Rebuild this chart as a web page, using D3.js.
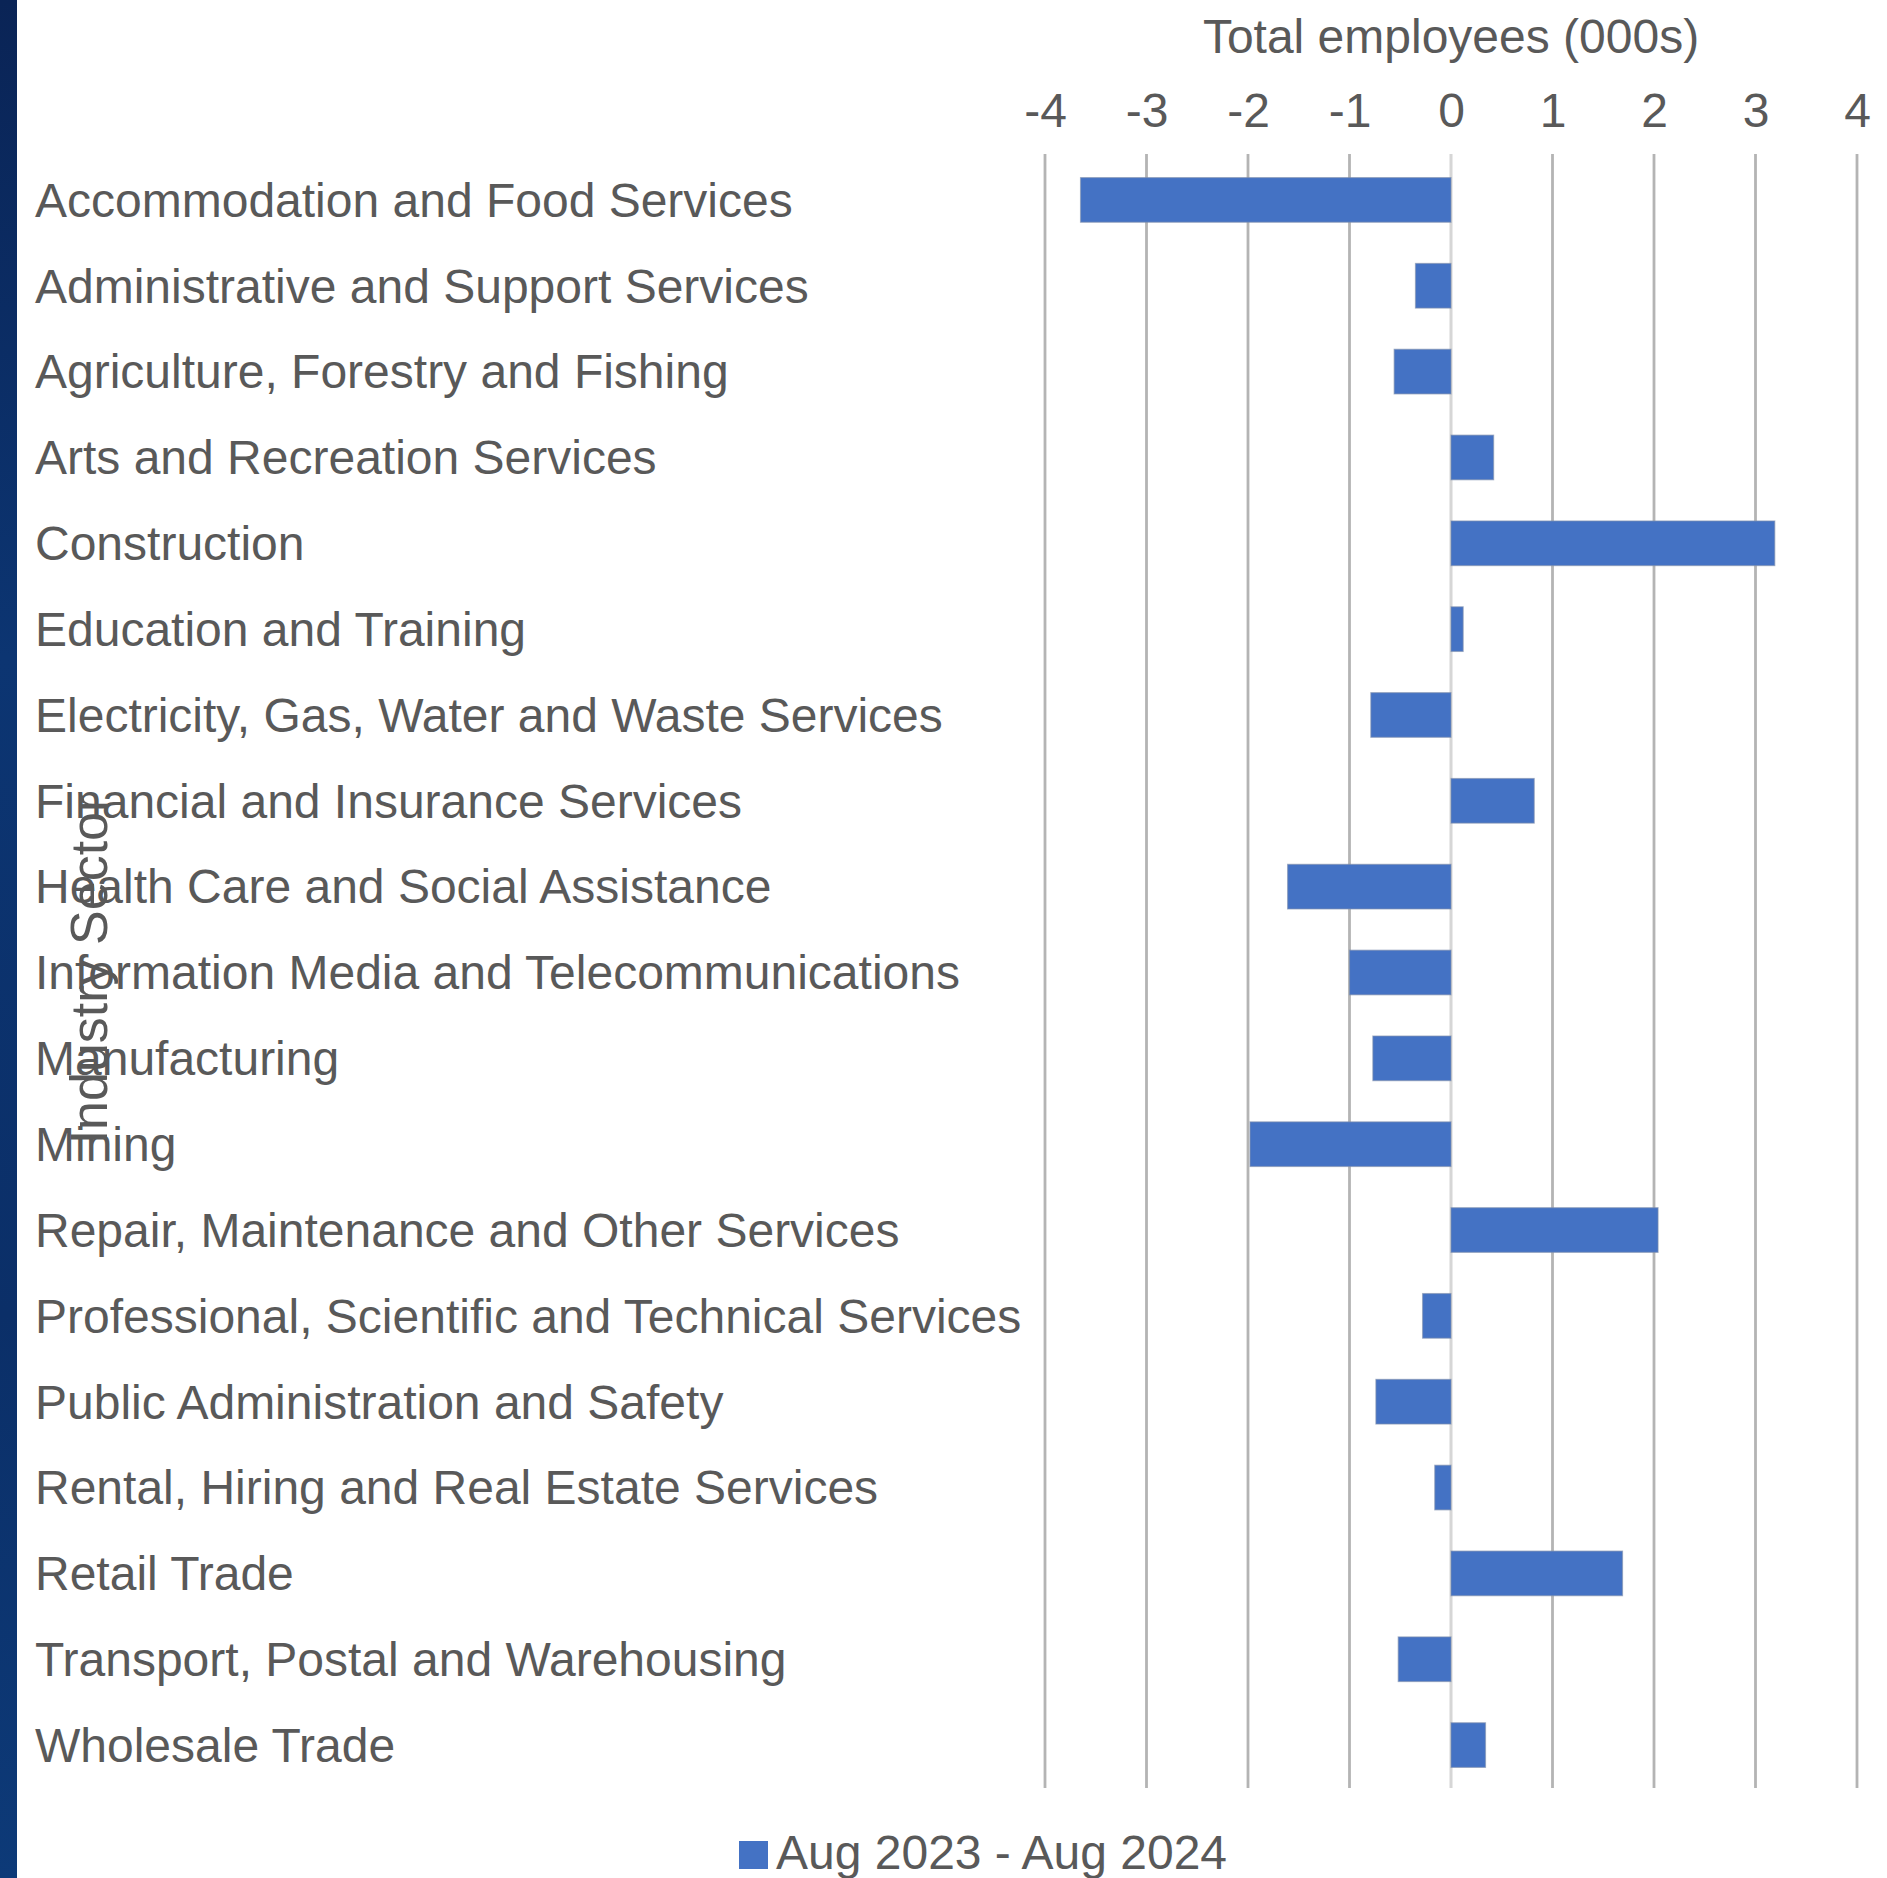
<!DOCTYPE html>
<html>
<head>
<meta charset="utf-8">
<script src="https://cdn.jsdelivr.net/npm/d3@7"></script>
<style>
  html, body { margin: 0; padding: 0; background: #ffffff; }
  svg { display: block; }
  text { font-family: "Liberation Sans", Arial, sans-serif; fill: #595959; }
</style>
</head>
<body>
<svg id="chart" width="1887" height="1878"></svg>
<script>
// Employment change by industry, thousands of employees
const categories = [
  "Accommodation and Food Services",
  "Administrative and Support Services",
  "Agriculture, Forestry and Fishing",
  "Arts and Recreation Services",
  "Construction",
  "Education and Training",
  "Electricity, Gas, Water and Waste Services",
  "Financial and Insurance Services",
  "Health Care and Social Assistance",
  "Information Media and Telecommunications",
  "Manufacturing",
  "Mining",
  "Repair, Maintenance and Other Services",
  "Professional, Scientific and Technical Services",
  "Public Administration and Safety",
  "Rental, Hiring and Real Estate Services",
  "Retail Trade",
  "Transport, Postal and Warehousing",
  "Wholesale Trade"
];
const changeValues = [
  -3.65, -0.35, -0.56, 0.42, 3.19, 0.12, -0.79, 0.82, -1.61, -1.0,
  -0.77, -1.98, 2.04, -0.28, -0.74, -0.16, 1.69, -0.52, 0.34
];
const tickValues = [-4, -3, -2, -1, 0, 1, 2, 3, 4];
const seriesName = "Aug 2023 - Aug 2024";
const xTitle = "Total employees (000s)";
const yTitle = "Industry Sector";

const svg = d3.select("#chart");
const W = 1887, H = 1878;
const plot = { left: 1045, right: 1857, top: 157, bottom: 1788 };
const fontSize = 48;
const barColor = "#4472c4";

// left navy strip
const defs = svg.append("defs");
const grad = defs.append("linearGradient").attr("id", "strip")
  .attr("x1", 0).attr("y1", 0).attr("x2", 0).attr("y2", 1);
grad.append("stop").attr("offset", "0%").attr("stop-color", "#0a2456");
grad.append("stop").attr("offset", "35%").attr("stop-color", "#0c3572");
grad.append("stop").attr("offset", "70%").attr("stop-color", "#0b2f68");
grad.append("stop").attr("offset", "100%").attr("stop-color", "#0d3a78");
svg.append("rect").attr("x", 0).attr("y", 0).attr("width", 17).attr("height", H)
  .attr("fill", "url(#strip)");

const x = d3.scaleLinear().domain([-4, 4]).range([plot.left, plot.right]);
const y = d3.scaleBand().domain(categories).range([plot.top, plot.bottom])
  .paddingInner(0.48).paddingOuter(0.24);

// vertical gridlines
svg.append("g").selectAll("line").data(tickValues).join("line")
  .attr("x1", d => x(d)).attr("x2", d => x(d))
  .attr("y1", plot.top - 3).attr("y2", plot.bottom)
  .attr("stroke", d => d === 0 ? "#d6d6d6" : "#b4b4b4")
  .attr("stroke-width", d => d === 0 ? 3 : 2.8);

// top axis tick labels
const xAxis = d3.axisTop(x).tickValues(tickValues).tickSize(0).tickPadding(0)
  .tickFormat(d3.format("d"));
const gx = svg.append("g").attr("transform", `translate(0,127)`).call(xAxis);
gx.select(".domain").remove();
gx.selectAll("text").attr("font-size", fontSize)
  .attr("font-family", "Liberation Sans, Arial, sans-serif")
  .attr("fill", "#595959").attr("dy", 0)
  .text(d => d < 0 ? "-" + Math.abs(d) : String(d));

// axis title
svg.append("text").attr("x", x(0)).attr("y", 53)
  .attr("text-anchor", "middle").attr("font-size", fontSize).text(xTitle);

// bars
svg.append("g").selectAll("rect").data(categories).join("rect")
  .attr("x", (d, i) => x(Math.min(0, changeValues[i])))
  .attr("y", d => y(d))
  .attr("width", (d, i) => Math.abs(x(changeValues[i]) - x(0)))
  .attr("height", y.bandwidth())
  .attr("fill", barColor)
  .attr("stroke", "#7f8fae").attr("stroke-width", 1.2).attr("stroke-opacity", 0.6);

// category labels
svg.append("g").selectAll("text").data(categories).join("text")
  .attr("x", 35)
  .attr("y", d => y(d) + y.bandwidth() / 2)
  .attr("dy", "0.35em")
  .attr("font-size", fontSize)
  .text(d => d);

// y-axis title
svg.append("text")
  .attr("transform", `translate(107,${(plot.top + plot.bottom) / 2 - 3}) rotate(-90)`)
  .attr("text-anchor", "middle")
  .attr("font-size", 52)
  .text(yTitle);

// legend
const legend = svg.append("g");
legend.append("rect").attr("x", 739).attr("y", 1841).attr("width", 29).attr("height", 28)
  .attr("fill", barColor);
legend.append("text").attr("x", 776).attr("y", 1869)
  .attr("font-size", fontSize).text(seriesName);
</script>
</body>
</html>
